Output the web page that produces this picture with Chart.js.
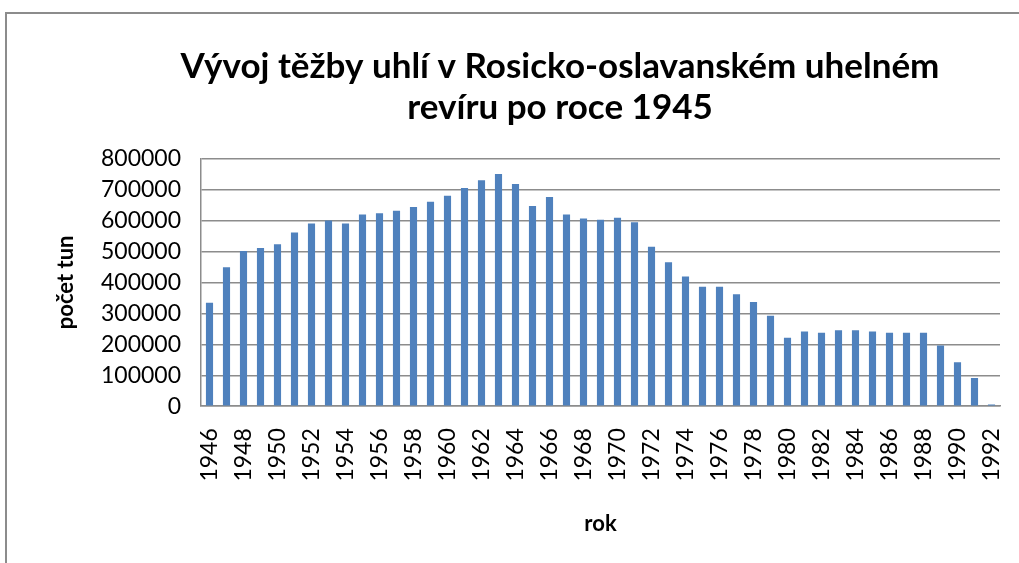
<!DOCTYPE html>
<html>
<head>
<meta charset="utf-8">
<script src="https://cdn.jsdelivr.net/npm/chart.js@4/dist/chart.umd.min.js"></script>
<style>
  html, body { margin: 0; padding: 0; background: #fff; overflow: hidden; }
  #wrap { position: relative; width: 1019px; height: 563px; }
  #frame { position: absolute; left: 5px; top: 12px; width: 1100px; height: 700px; border: 2px solid #8c8c8c; box-sizing: border-box; }
  canvas { position: absolute; left: 0; top: 0; }
</style>
</head>
<body>
<div id="wrap">
  <div id="frame"></div>
  <canvas id="chart" width="1019" height="563"></canvas>
</div>
<script>
// roky 1946 - 1992
const years = [];
for (let y = 1946; y <= 1992; y++) years.push(String(y));

// tezba v tunach
const tons = [
  334000, 449000, 501000, 511000, 523000, 561000, 590000, 600000, 590000, 619000,
  623000, 631000, 643000, 660000, 680000, 705000, 730000, 750000, 718000, 647000,
  676000, 619000, 606000, 602000, 609000, 594000, 515000, 465000, 419000, 386000,
  386000, 362000, 337000, 292000, 221000, 241000, 237000, 245000, 245000, 241000,
  237000, 237000, 237000, 196000, 142000, 91000, 6000
];

const titleLines = ["Vývoj těžby uhlí v Rosicko-oslavanském uhelném", "revíru po roce 1945"];
const yTitle = "počet tun";
const xTitle = "rok";

const face = "Lato, 'Open Sans', sans-serif";

// nadpis je v originale posunuty trochu doprava
const shiftTitle = {
  id: "shiftTitle",
  afterLayout(chart) {
    if (chart.titleBlock) {
      chart.titleBlock.left += 24;
      chart.titleBlock.right += 24;
    }
  }
};

const ctx = document.getElementById("chart").getContext("2d");
new Chart(ctx, {
  type: "bar",
  data: {
    labels: years,
    datasets: [{
      label: "těžba",
      data: tons,
      backgroundColor: "#4f81bd",
      borderWidth: 0,
      barPercentage: 0.42,
      categoryPercentage: 1.0
    }]
  },
  plugins: [shiftTitle],
  options: {
    responsive: false,
    animation: false,
    layout: { padding: { top: 47, left: 53, right: 0, bottom: 26 } },
    plugins: {
      legend: { display: false },
      tooltip: { enabled: false },
      title: {
        display: true,
        text: titleLines,
        color: "#000",
        font: { family: face, size: 35, weight: "bold", lineHeight: 1.15 },
        padding: { top: 0, bottom: 31 }
      }
    },
    scales: {
      x: {
        afterFit: function(scale) { scale.paddingRight = 19; scale.paddingLeft = 0; },
        grid: { display: false, drawTicks: false },
        border: { color: "#8c8c8c", width: 1.5 },
        ticks: {
          autoSkip: false,
          maxRotation: 90,
          minRotation: 90,
          padding: 22,
          color: "#000",
          font: { family: face, size: 23 },
          callback: function(val, idx) {
            return idx % 2 === 0 ? this.getLabelForValue(val) : "";
          }
        },
        title: {
          display: true,
          text: xTitle,
          color: "#000",
          font: { family: face, size: 22, weight: "bold" },
          padding: { top: 7, bottom: 0 }
        }
      },
      y: {
        min: 0,
        max: 800000,
        afterFit: function(scale) { scale.width = 148; },
        grid: { color: "#8c8c8c", lineWidth: 1.5, drawTicks: false },
        border: { color: "#8c8c8c", width: 1.5 },
        ticks: {
          stepSize: 100000,
          padding: 20,
          color: "#000",
          font: { family: face, size: 23 },
          callback: function(v) { return String(v); }
        },
        title: {
          display: true,
          text: yTitle,
          color: "#000",
          font: { family: face, size: 22, weight: "bold" },
          padding: { top: 0, bottom: 0 }
        }
      }
    }
  }
});
</script>
</body>
</html>
